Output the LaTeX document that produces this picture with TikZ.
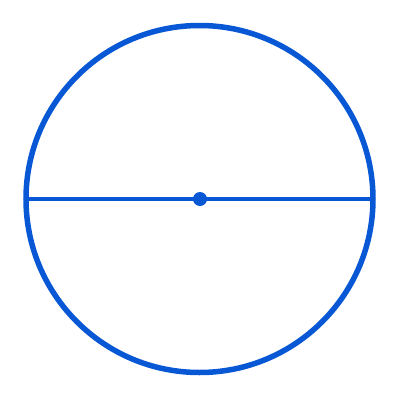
\documentclass[tikz,border=0pt]{standalone}
\definecolor{cblue}{RGB}{8,88,214}
\begin{document}
\begin{tikzpicture}[x=1pt,y=-1pt,
  rim/.style={draw=cblue,line width=5.5pt},
  diam/.style={draw=cblue,line width=4pt},
  dotc/.style={circle,fill=cblue,inner sep=0pt,minimum size=14pt}]
\useasboundingbox[fill=white] (0,0) rectangle (400,400);
\draw[rim] (199.5,199) circle[radius=173.5];
\coordinate (L) at (26,199);
\coordinate (R) at (373,199);
\draw[diam] (L) -- (R);
\node[dotc] (O) at (200,199) {};
\end{tikzpicture}
\end{document}
